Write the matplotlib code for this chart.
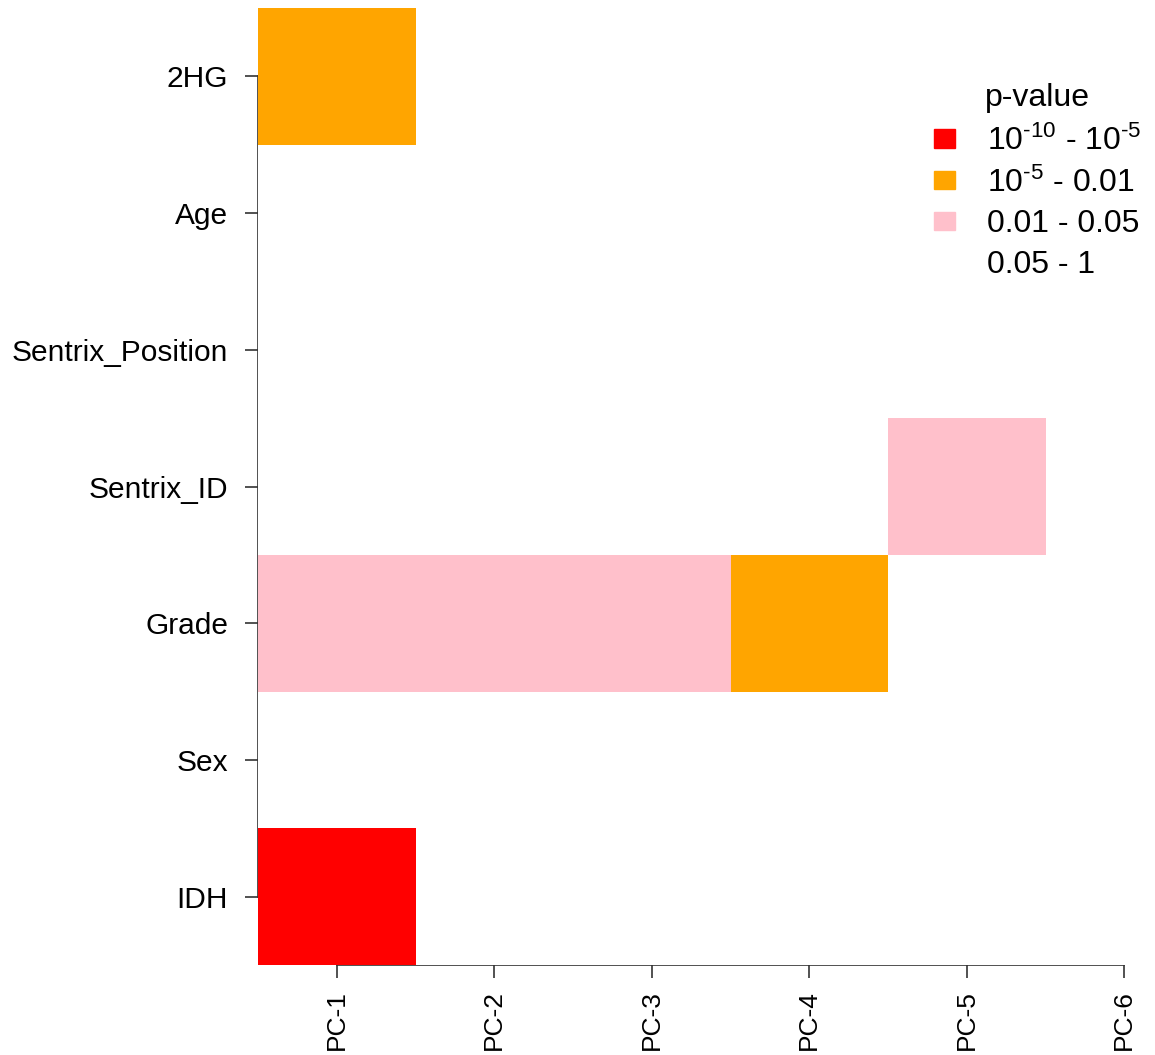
import numpy as np
import matplotlib
matplotlib.use("Agg")
from matplotlib import pyplot as plt
from matplotlib.colors import ListedColormap, BoundaryNorm
from matplotlib.patches import Patch

plt.rcParams['font.family'] = ['Liberation Sans', 'DejaVu Sans']
plt.rcParams['mathtext.fontset'] = 'custom'
plt.rcParams['mathtext.rm'] = 'Liberation Sans'
plt.rcParams['mathtext.default'] = 'regular'

# rows listed bottom -> top, columns PC-1..PC-6
pcs = ['PC-1', 'PC-2', 'PC-3', 'PC-4', 'PC-5', 'PC-6']
covars = ['IDH', 'Sex', 'Grade', 'Sentrix_ID', 'Sentrix_Position', 'Age', '2HG']
# p-value class: 0 = 1e-10..1e-5, 1 = 1e-5..0.01, 2 = 0.01..0.05, 3 = 0.05..1
pclass = [
    [0, 3, 3, 3, 3, 3],  # IDH
    [3, 3, 3, 3, 3, 3],  # Sex
    [2, 2, 2, 1, 3, 3],  # Grade
    [3, 3, 3, 3, 2, 3],  # Sentrix_ID
    [3, 3, 3, 3, 3, 3],  # Sentrix_Position
    [3, 3, 3, 3, 3, 3],  # Age
    [1, 3, 3, 3, 3, 3],  # 2HG
]
class_labels = [r'10$^{\text{-10}}$ - 10$^{\text{-5}}$', r'10$^{\text{-5}}$ - 0.01',
                '0.01 - 0.05', '0.05 - 1']
class_cols = ['#FF0000', '#FFA500', '#FFC0CB', '#FFFFFF']

fig = plt.figure(figsize=(11.55, 10.55), dpi=100)
ax = fig.add_axes([258/1155., 90/1055., 897/1155., 957/1055.])

z = np.array(pclass)
cmap = ListedColormap(class_cols)
norm = BoundaryNorm([-0.5, 0.5, 1.5, 2.5, 3.5], cmap.N)
xe = np.arange(len(pcs) + 1) + 0.5
ye = np.arange(len(covars) + 1) + 0.5
ax.pcolormesh(xe, ye, z, cmap=cmap, norm=norm, zorder=3)

ax.set_xlim(0.5, 0.5 + 897/157.5)
ax.set_ylim(0.5, len(covars) + 0.5)

ax.set_xticks(np.arange(1, len(pcs) + 1))
ax.set_xticklabels(pcs, rotation=90, fontsize=19)
ax.set_yticks(np.arange(1, len(covars) + 1))
ax.set_yticklabels(covars, fontsize=21.5)
ax.tick_params(length=9.5, width=1.2, color='#333333')
ax.tick_params(axis='y', pad=12)
ax.tick_params(axis='x', pad=8.5)

for s in ['top', 'right']:
    ax.spines[s].set_visible(False)
ax.spines['left'].set_bounds(1, len(covars))
ax.spines['bottom'].set_bounds(1, len(pcs))
for s in ['left', 'bottom']:
    ax.spines[s].set_color('#333333')
    ax.spines[s].set_linewidth(1.2)

handles = [Patch(facecolor=c, edgecolor=c) for c in class_cols]
leg = fig.legend(handles, class_labels, title='p-value', loc='upper left',
                 bbox_to_anchor=(934/1155., 1 - 83/1055.), frameon=False,
                 fontsize=23, title_fontsize=23, handlelength=0.66,
                 handleheight=0.5, labelspacing=0.33, handletextpad=1.0,
                 borderpad=0, borderaxespad=0)
leg._legend_box.sep = 9

fig.savefig('out.png', dpi=100)
